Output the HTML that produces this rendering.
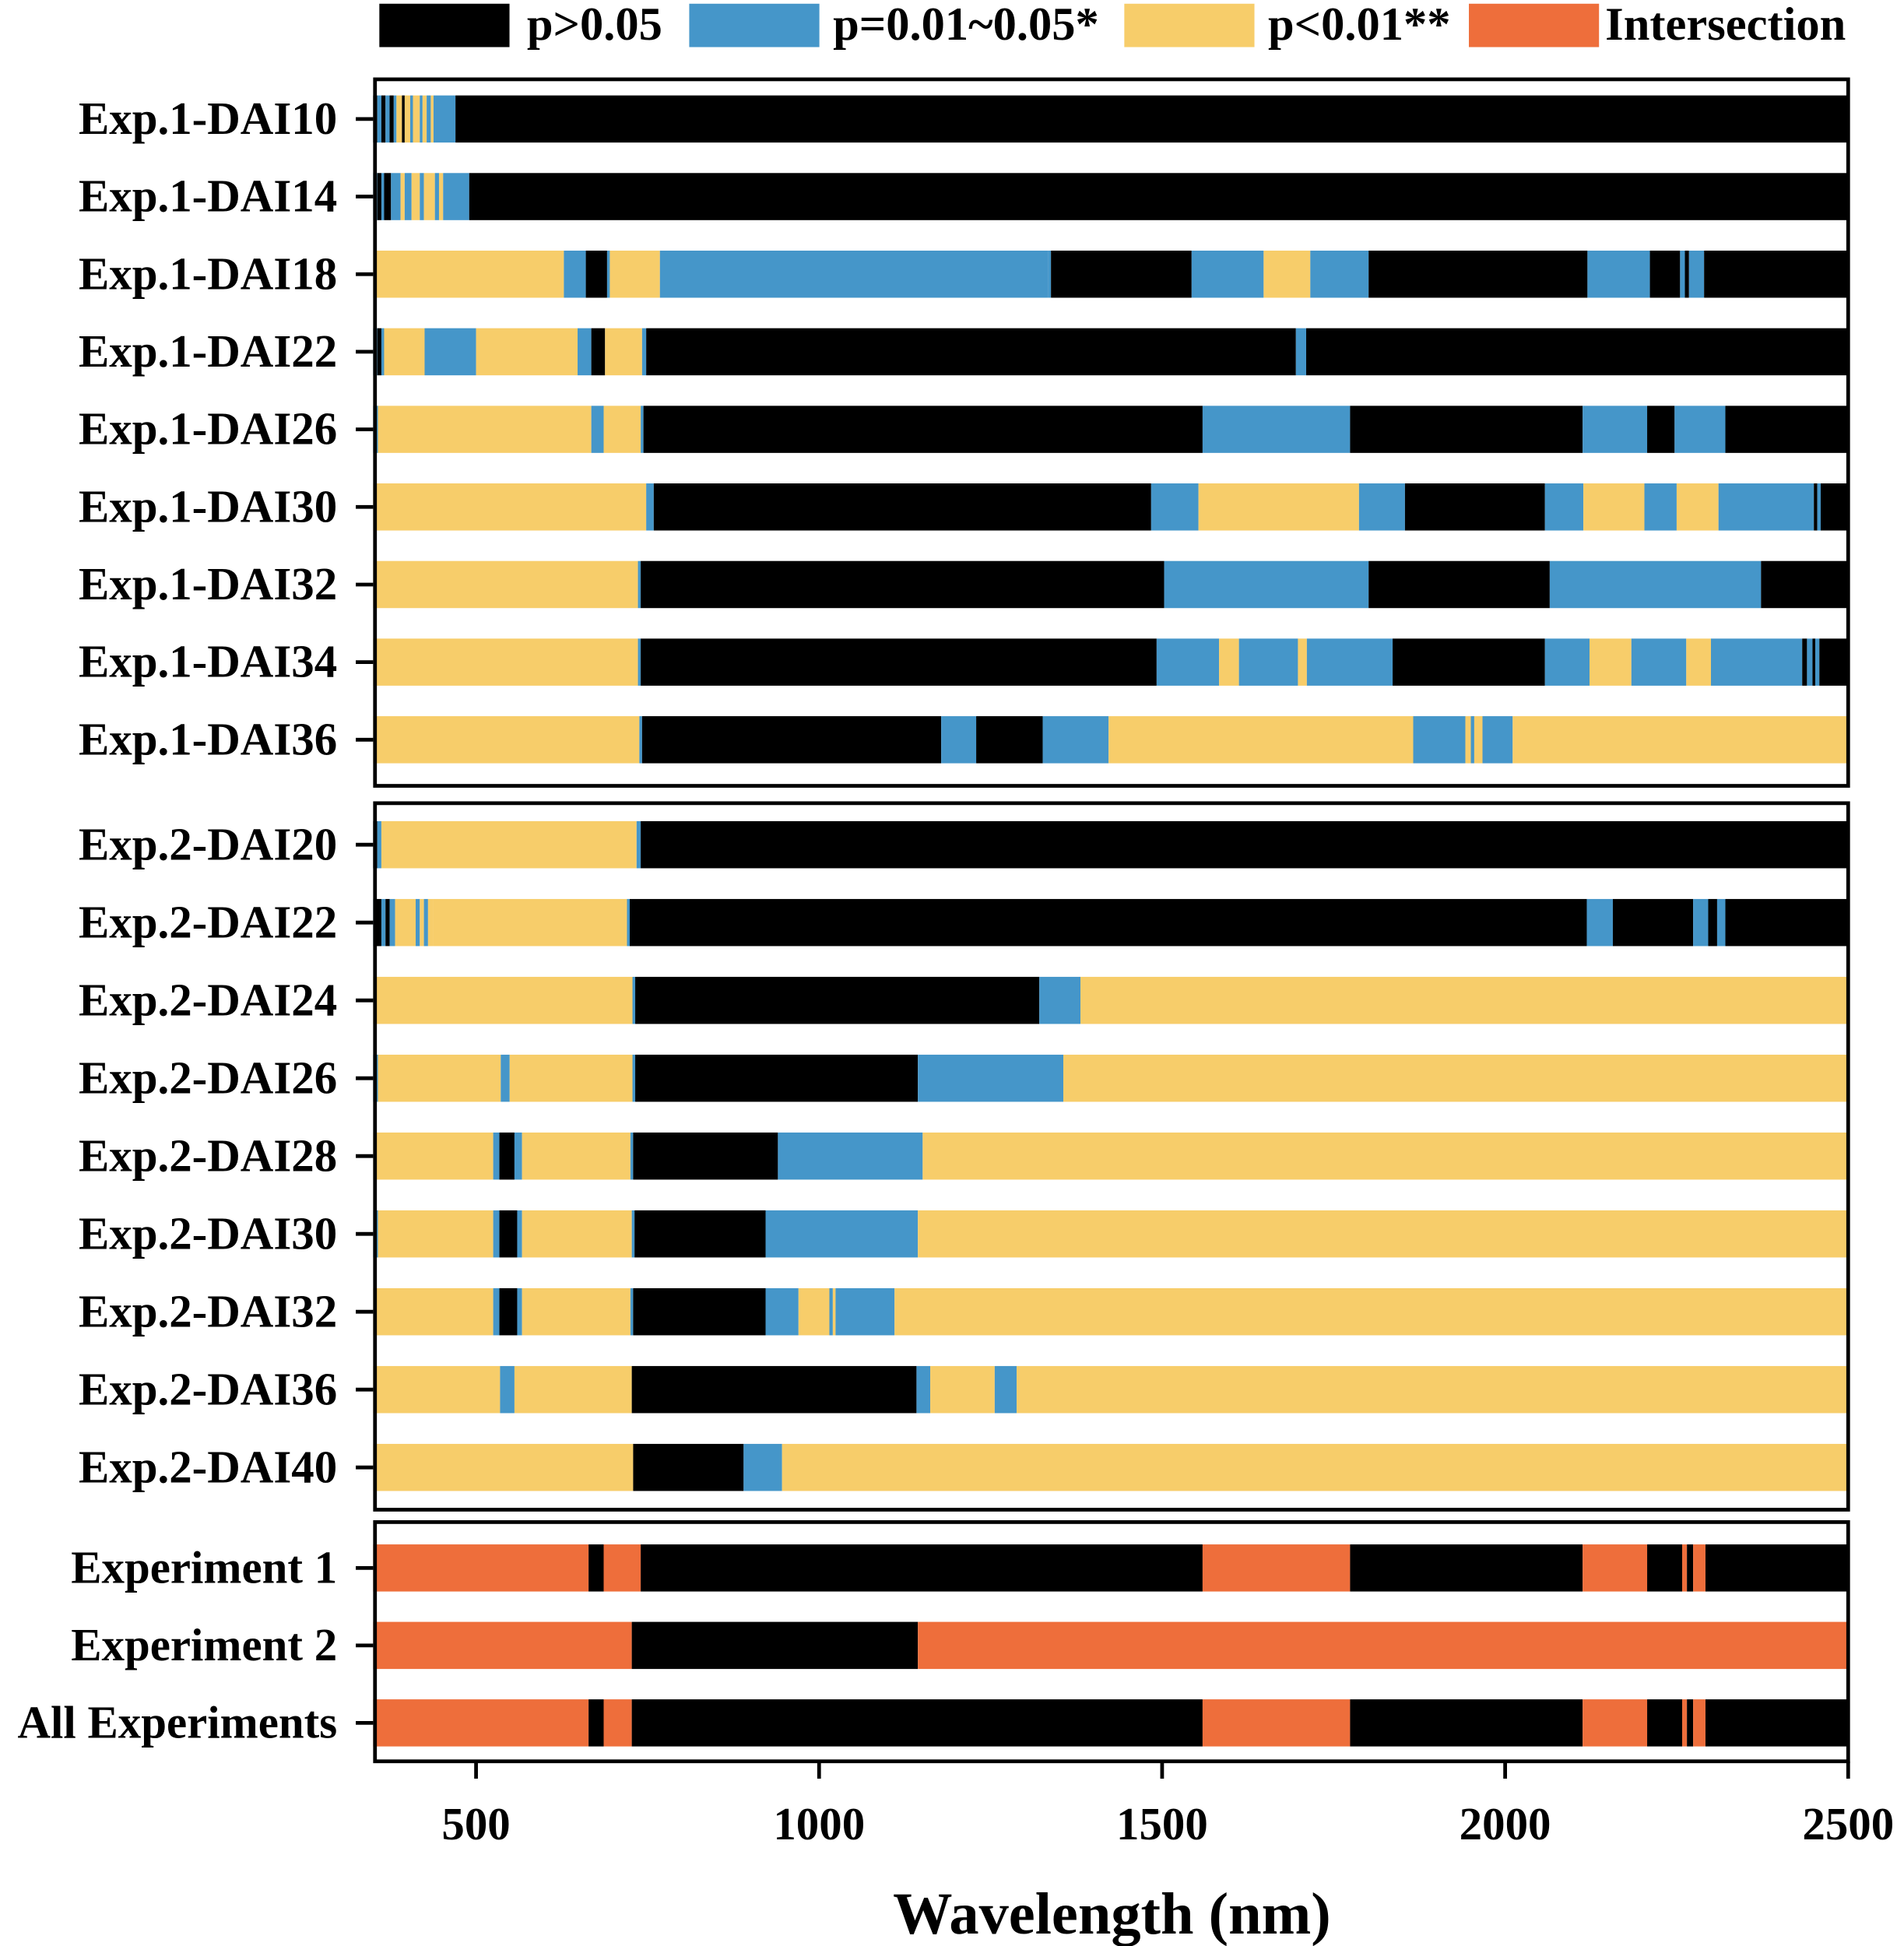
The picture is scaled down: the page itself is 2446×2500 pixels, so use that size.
<!DOCTYPE html>
<html><head><meta charset="utf-8"><style>
html,body{margin:0;padding:0;background:#fff;}
svg{display:block;}
text{font-family:"Liberation Serif",serif;font-weight:bold;fill:#000;}
</style></head><body>
<svg id="chart" width="2446" height="2500" viewBox="0 0 1536 1570" xmlns="http://www.w3.org/2000/svg">
<g id="legend">
 <rect x="306" y="3" width="105" height="35" fill="#000"/>
 <text x="425" y="32" font-size="38">p&gt;0.05</text>
 <rect x="556" y="3" width="105" height="35" fill="#4596c9"/>
 <text x="672" y="32" font-size="38">p=0.01~0.05*</text>
 <rect x="907" y="3" width="105" height="35" fill="#f7cd6a"/>
 <text x="1023" y="32" font-size="38">p&lt;0.01**</text>
 <rect x="1185" y="3" width="105" height="35" fill="#ee6e3b"/>
 <text x="1295" y="32" font-size="38">Intersection</text>
</g>
<g id="bars"></g>
<g id="frames"></g>
<g id="axes"></g>
<text x="897" y="1560" font-size="48" text-anchor="middle">Wavelength (nm)</text>
</svg>
<script>
const K='k',B='b',Y='y',O='o';
const colors={k:'#000000',b:'#4596c9',y:'#f7cd6a',o:'#ee6e3b'};
const panel1Labels=['Exp.1-DAI10','Exp.1-DAI14','Exp.1-DAI18','Exp.1-DAI22','Exp.1-DAI26','Exp.1-DAI30','Exp.1-DAI32','Exp.1-DAI34','Exp.1-DAI36'];
const panel2Labels=['Exp.2-DAI20','Exp.2-DAI22','Exp.2-DAI24','Exp.2-DAI26','Exp.2-DAI28','Exp.2-DAI30','Exp.2-DAI32','Exp.2-DAI36','Exp.2-DAI40'];
const panel3Labels=['Experiment 1','Experiment 2','All Experiments'];
const xTicks=[500,1000,1500,2000,2500];
// segments: [start nm, end nm, category]
const panel1Segments=[
 [[350,356,K],[356,362,B],[362,368,K],[368,374,B],[374,380,K],[380,384,B],[384,392,Y],[392,396,K],[396,404,Y],[404,408,B],[408,418,Y],[418,422,B],[422,428,Y],[428,434,B],[434,438,Y],[438,470,B],[470,2500,K]],
 [[350,356,B],[356,362,K],[362,366,B],[366,376,K],[376,390,B],[390,396,Y],[396,406,B],[406,418,Y],[418,424,B],[424,440,Y],[440,446,B],[446,452,Y],[452,490,B],[490,2500,K]],
 [[350,628,Y],[628,660,B],[660,691,K],[691,695,B],[695,768,Y],[768,1334,B],[1334,1338,B],[1338,1543,K],[1543,1648,B],[1648,1716,Y],[1716,1801,B],[1801,2120,K],[2120,2211,B],[2211,2255,K],[2255,2262,B],[2262,2268,K],[2268,2290,B],[2290,2500,K]],
 [[350,356,B],[356,362,K],[362,366,B],[366,425,Y],[425,500,B],[500,648,Y],[648,668,B],[668,688,K],[688,742,Y],[742,748,B],[748,1695,K],[1695,1710,B],[1710,2500,K]],
 [[350,357,B],[357,668,Y],[668,686,B],[686,740,Y],[740,744,B],[744,1559,K],[1559,1774,B],[1774,2113,K],[2113,2207,B],[2207,2247,K],[2247,2321,B],[2321,2500,K]],
 [[350,748,Y],[748,759,B],[759,1484,K],[1484,1553,B],[1553,1787,Y],[1787,1854,B],[1854,2058,K],[2058,2114,B],[2114,2203,Y],[2203,2250,B],[2250,2311,Y],[2311,2450,B],[2450,2455,K],[2455,2460,B],[2460,2500,K]],
 [[350,736,Y],[736,740,B],[740,1503,K],[1503,1801,B],[1801,2065,K],[2065,2373,B],[2373,2500,K]],
 [[350,736,Y],[736,740,B],[740,1492,K],[1492,1583,B],[1583,1612,Y],[1612,1698,B],[1698,1711,Y],[1711,1836,B],[1836,2058,K],[2058,2123,B],[2123,2184,Y],[2184,2264,B],[2264,2300,Y],[2300,2433,B],[2433,2440,K],[2440,2448,B],[2448,2452,K],[2452,2458,B],[2458,2500,K]],
 [[350,738,Y],[738,742,B],[742,1178,K],[1178,1229,B],[1229,1326,K],[1326,1422,B],[1422,1866,Y],[1866,1942,B],[1942,1950,Y],[1950,1955,B],[1955,1967,Y],[1967,2011,B],[2011,2500,Y]]
];
const panel2Segments=[
 [[350,356,K],[356,362,B],[362,734,Y],[734,740,B],[740,2500,K]],
 [[350,355,B],[355,362,K],[362,368,B],[368,374,K],[374,382,B],[382,412,Y],[412,418,B],[418,424,Y],[424,430,B],[430,437,Y],[437,720,Y],[720,724,B],[724,2119,K],[2119,2157,B],[2157,2274,K],[2274,2296,B],[2296,2309,K],[2309,2321,B],[2321,2500,K]],
 [[350,728,Y],[728,732,B],[732,1321,K],[1321,1381,B],[1381,2500,Y]],
 [[350,357,B],[357,536,Y],[536,549,B],[549,728,Y],[728,732,B],[732,1144,K],[1144,1356,B],[1356,2500,Y]],
 [[350,525,Y],[525,534,B],[534,556,K],[556,567,B],[567,725,Y],[725,729,B],[729,940,K],[940,1151,B],[1151,2500,Y]],
 [[350,357,B],[357,525,Y],[525,534,B],[534,560,K],[560,567,B],[567,727,Y],[727,731,B],[731,922,K],[922,1144,B],[1144,2500,Y]],
 [[350,525,Y],[525,534,B],[534,560,K],[560,567,B],[567,725,Y],[725,729,B],[729,922,K],[922,970,B],[970,1015,Y],[1015,1020,B],[1020,1024,Y],[1024,1110,B],[1110,2500,Y]],
 [[350,535,Y],[535,556,B],[556,727,Y],[727,1142,K],[1142,1162,B],[1162,1256,Y],[1256,1288,B],[1288,2500,Y]],
 [[350,729,Y],[729,890,K],[890,946,B],[946,2500,Y]]
];
const panel3Segments=[
 [[350,664,O],[664,686,K],[686,740,O],[740,1559,K],[1559,1774,O],[1774,2113,K],[2113,2207,O],[2207,2258,K],[2258,2265,O],[2265,2274,K],[2274,2292,O],[2292,2500,K]],
 [[350,727,O],[727,1144,K],[1144,2500,O]],
 [[350,664,O],[664,686,K],[686,727,O],[727,1559,K],[1559,1774,O],[1774,2113,K],[2113,2207,O],[2207,2258,K],[2258,2265,O],[2265,2274,K],[2274,2292,O],[2292,2500,K]]
];
const NS='http://www.w3.org/2000/svg';
const X0=301, X1=1491, D0=350, D1=2500;
function xs(v){return X0+(v-D0)/(D1-D0)*(X1-X0);}
const bars=document.getElementById('bars'),frames=document.getElementById('frames'),axes=document.getElementById('axes');
function mk(tag,attrs,parent){const e=document.createElementNS(NS,tag);for(const k in attrs)e.setAttribute(k,attrs[k]);parent.appendChild(e);return e;}
const panels=[
 {name:'experiment-1-panel',labels:panel1Labels,segs:panel1Segments,top:64,bottom:634,first:96,step:62.6},
 {name:'experiment-2-panel',labels:panel2Labels,segs:panel2Segments,top:648,bottom:1218,first:681.5,step:62.8},
 {name:'summary-panel',labels:panel3Labels,segs:panel3Segments,top:1228,bottom:1421,first:1265,step:62.5}
];
const BH=38;
panels.forEach(p=>{
 p.labels.forEach((lab,i)=>{
  const cy=p.first+i*p.step;
  const g=mk('g',{},bars);
  
  
  p.segs[i].forEach(s=>{
   const r=mk('rect',{x:xs(s[0]),y:cy-BH/2,width:Math.max(0.5,xs(s[1])-xs(s[0])),height:BH,fill:colors[s[2]]},g);
   
   
  });
  const t=mk('line',{x1:287,x2:X0,y1:cy,y2:cy,stroke:'#000','stroke-width':3},axes);
  
  
  const tx=mk('text',{x:272,y:cy+12,'font-size':37,'text-anchor':'end'},axes);
  tx.textContent=lab;
  
  
 });
 const f=mk('rect',{x:X0+1.5,y:p.top,width:X1-X0-1.5,height:p.bottom-p.top,fill:'none',stroke:'#000','stroke-width':3},frames);
 
 
});
xTicks.forEach(v=>{
 const x=xs(v);
 const l=mk('line',{x1:x,x2:x,y1:1421,y2:1435,stroke:'#000','stroke-width':3},axes);
 
 
 const t=mk('text',{x:x,y:1484,'font-size':37,'text-anchor':'middle'},axes);
 t.textContent=v;
 
 
});
</script>
</body></html>
